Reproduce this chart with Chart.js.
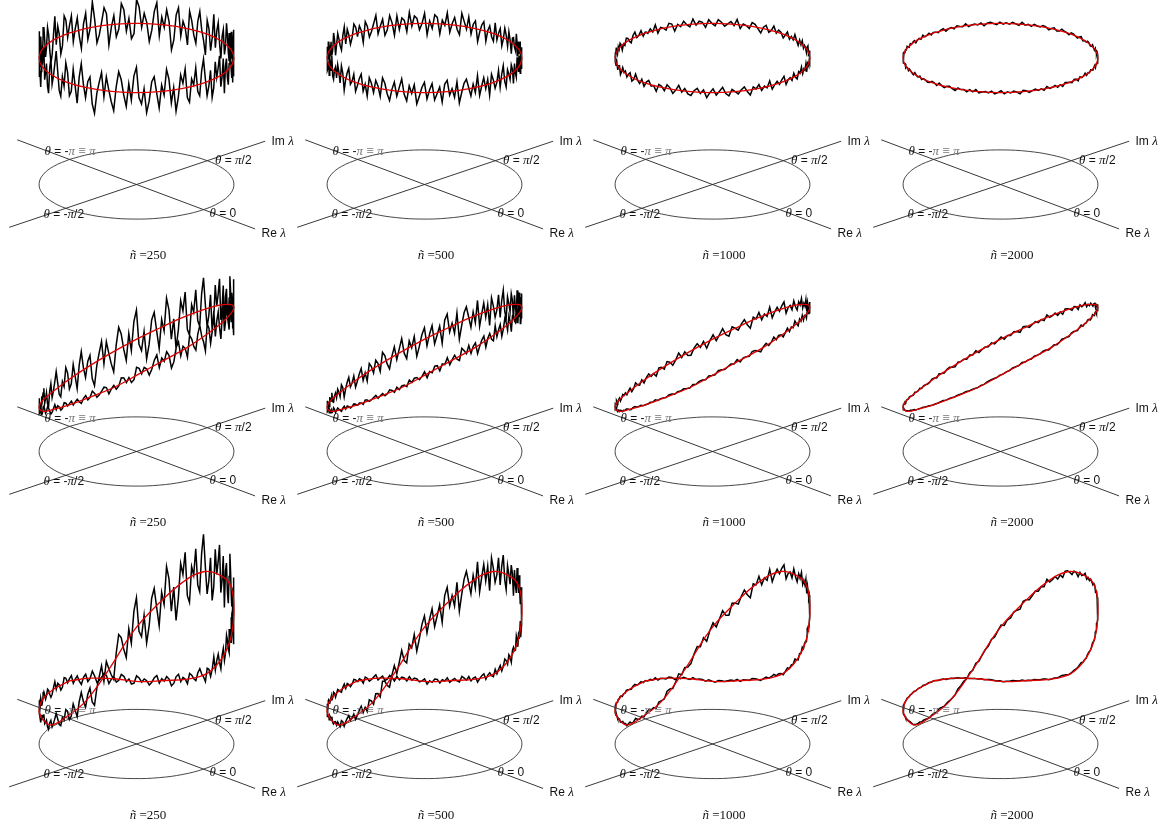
<!DOCTYPE html>
<html>
<head>
<meta charset="utf-8">
<script src="https://cdn.jsdelivr.net/npm/chart.js@4.4.1/dist/chart.umd.min.js"></script>
<style>
  body { margin: 0; background: #fff; }
  canvas { display: block; }
</style>
</head>
<body>
<canvas id="chart" width="1166" height="828"></canvas>
<script>
const theta = [-180, -165, -150, -135, -120, -105, -90, -75, -60, -45, -30, -15,
               0, 15, 30, 45, 60, 75, 90, 105, 120, 135, 150, 165];

// mean height over the plane, one list per row of panels
const heightFlat = [1.00, 1.00, 1.00, 1.00, 1.00, 1.00, 1.00, 1.00, 1.00, 1.00, 1.00, 1.00,
                    1.00, 1.00, 1.00, 1.00, 1.00, 1.00, 1.00, 1.00, 1.00, 1.00, 1.00, 1.00];
const heightTilted = [0.17, 0.19, 0.24, 0.34, 0.46, 0.59, 0.74, 0.89, 1.03, 1.15, 1.24, 1.30,
                      1.32, 1.30, 1.24, 1.15, 1.03, 0.89, 0.74, 0.59, 0.46, 0.34, 0.24, 0.19];
const heightPeaked = [0.30, 0.29, 0.28, 0.27, 0.27, 0.28, 0.40, 0.57, 0.85, 1.17, 1.38, 1.52,
                      1.56, 1.48, 1.34, 1.11, 0.79, 0.55, 0.37, 0.28, 0.24, 0.22, 0.25, 0.28];

const sizes = [250, 500, 1000, 2000];

// relative deviation (percent) of the noisy curve from the mean, samples evenly round the loop
const noise250 = [
  6, -3, 11, 15, -8, -14, 2, 9, -5, 18, 4, -11, -17, -6, 7, 13, -2, -9, 5, 16, 10, -7, -13, 1,
  12, -4, -10, 3, 19, 8, -6, -15, -1, 7, 14, -3, 5, -12, -18, -5, 9, 2, 11, 17, -8, -2, 6, -11,
  -16, 4, 13, -7, 0, 10, 21, 6, -9, -13, 3, -4, 15, 8, -10, -6, 12, -1, -14, 7, 18, 2, -8, 5,
  9, -12, -19, -3, 6, 14, -5, 11, 1, -8, -15, 4, 16, 10, -2, -11, 7, -6, 13, 20, -4, -9, 3, -16,
  -7, 8, 12, -1, -13, 5, -3, 17, 9, -10, 2, -17, -6, 11, 4, 15, -8, -12, 6, 1, 14, -5, -9, 10,
  19, 3, -11, -4, 8, -14, -7, 13, 0, 7, 16, -9, -2, 12, -16, 5, 10, -6, -12, 4, 18, 9, -3, -10,
  2, -15, 6, 14, -8, 11, -1, -13, 7, 21, 3, -6, -18, -4, 9, 15, -7, 1, 12, -11, -5, 8, 17, -2,
  -9, 10, 4, -14, -3, 13, 6, -8, 18, -1, -12, 5, 11, -17, -6, 2, 16, 8, -10, -4, 7, 14, -13, 0,
  5, -7, 15, 9, -11, -19, 3, 12, -2, 6, -9, 17, 10, -5, -14, 1, 8, -3, 13, 19, -8, -12, 4, -6,
  11, 16, -4, -10, 7, -2, -16, 9, 14, 3, -7, -13, 6, 20, -1, -9, 12, 4, -15, -5, 10, 2, -8, 13
];
const noise500 = [
  -3, 5, 8, -2, -7, 1, 6, -5, 9, 3, -8, -4, 2, 7, -1, -9, 4, 10, -3, -6, 5, 0, -7, 3,
  8, -2, -5, 6, 1, -9, -4, 7, 3, -1, 9, 5, -6, -3, 2, -8, 6, 4, -2, 10, -5, -7, 1, 4,
  -4, 7, 2, -6, 8, 3, -10, -1, 5, 9, -3, 0, 6, -7, -2, 4, 8, -5, 1, -8, 7, 3, -4, 6,
  2, -6, 9, 5, -3, -8, 1, 7, -4, 3, 10, -2, -7, 5, -1, 6, -9, -3, 4, 8, -5, 2, 7, -6,
  -1, 4, -8, 6, 9, -3, 2, -5, 7, -10, -2, 5, 8, 1, -6, 3, -4, 9, -7, 0, 6, -3, 4, -9,
  7, 2, -5, -1, 8, -6, 4, 10, -3, -8, 5, 1, -4, 7, 3, -9, 6, -2, -6, 9, 2, -4, 8, -1,
  -7, 3, 6, -4, 1, 9, -8, -2, 5, 7, -5, 4, -1, -9, 8, 2, -3, 6, -6, 3, 10, -4, -2, 5,
  4, -9, 1, 7, -5, 3, 8, -1, -7, 6, 2, -4, 9, -6, -3, 5, 1, -8, 7, 4, -2, -10, 6, 3,
  -5, 8, -2, 4, 10, -7, -3, 6, 1, -6, 9, -1, 3, -8, 5, 7, -4, 2, -9, 8, 0, -5, 4, 6,
  -2, 9, -6, 3, 5, -4, 7, -8, 2, 8, -3, -7, 6, 1, -5, 10, 4, -2, -6, 3, 7, -9, 1, 5
];
const noise1000 = [
  1, -2, 3, 0, -1, 4, 2, -3, -1, 2, 3, -2, 0, -4, 1, 3, -1, 2, -3, 0, 4, 1, -2, -1,
  3, -1, -3, 2, 1, -2, 4, 0, -3, 1, 2, -4, -1, 3, 0, 2, -2, 1, 3, -3, -1, 4, 0, -2,
  2, -3, 1, 3, -1, 0, -4, 2, 1, -2, 3, 1, -3, 0, 4, -1, 2, -2, -3, 1, 3, -1, 2, -4,
  0, 3, -2, 1, 4, -1, -3, 2, 0, -2, 1, 3, -1, -4, 2, 0, 3, -2, 1, -1, 4, -3, 0, 2,
  -1, 2, 4, -3, 0, 1, -2, 3, -1, -3, 2, 0, 4, -2, 1, -1, 3, -4, 2, 0, -2, 1, 3, -1,
  2, -4, 1, 0, 3, -2, -1, 4, 2, -3, 0, 1, -2, 3, -1, 2, -3, 0, 4, -1, 1, -2, 3, 0,
  -3, 1, 2, -1, 4, 0, -2, 3, 1, -4, -1, 2, 3, -2, 0, 1, -3, 4, -1, 2, 0, -2, 1, 3,
  -2, 0, 3, -3, 1, 2, -1, 4, -2, 0, 3, -1, 1, -4, 2, 3, -2, 0, 1, -3, 4, -1, 2, -1
];
const noise2000 = [
  0.5, -1, 1, 0, -0.5, 1.5, -1, 0.5, 0, -1.5, 1, 0.5, -0.5, 1, -1, 0, 1.5, -0.5, 0.5, -1, 0, 1, -1.5, 0.5,
  1, -0.5, 0, 1.5, -1, -0.5, 0.5, 1, -1.5, 0, 0.5, -1, 1, 0.5, -0.5, -1, 1.5, 0, -0.5, 1, -1, 0.5, 0, -1,
  -0.5, 1, 0.5, -1, 1.5, 0, -1, 0.5, 1, -0.5, -1.5, 1, 0, 0.5, -1, 1, -0.5, 1.5, -1, 0, 0.5, -0.5, 1, -1,
  0, 1.5, -1, 0.5, -0.5, 1, 0, -1.5, 1, 0.5, -1, 0, 1, -0.5, 0.5, -1, 1.5, -0.5, 0, 1, -1, 0.5, -1.5, 1,
  0.5, 0, -1, 1, 0.5, -1.5, 1, -0.5, 0, 1.5, -1, 0.5, -0.5, 1, 0, -1, 0.5, 1, -1.5, 0.5, 0, -0.5, 1.5, -1,
  -1, 0.5, 1, -0.5, 0, 1, -1.5, 0.5, 1, -1, 0, 1.5, -0.5, -1, 0.5, 1, -0.5, 0, -1, 1.5, 0.5, -1, 0, 1,
  1, -1, 0, 0.5, 1.5, -0.5, -1, 1, 0, -1.5, 0.5, 1, -0.5, 0, 1, -1, 0.5, -0.5, 1.5, -1, 0, 1, -0.5, 0.5,
  -0.5, 1, -1, 0, 1, 0.5, -1.5, 1, -0.5, 0.5, 0, -1, 1.5, -0.5, 0, 1, -1, 0.5, 0, -1.5, 1, 0.5, -1, 0
];

const rowHeights = [heightFlat, heightTilted, heightPeaked];
const colNoise = [noise250, noise500, noise1000, noise2000];

// layout: centre of each panel's base circle, in page pixels
const colX = [136.5, 424.5, 712.5, 1000.5];
const rowY = [184.5, 451.5, 744];
// oblique view: where theta = 0 and theta = pi/2 land, and pixels per unit of height
const U = [67.0, 25.1];
const V = [70.7, -23.8];
const LIFT = 126.5;
const RE_REACH = [-1.78, 1.77];
const IM_REACH = [-1.80, 1.82];

function project(cx, cy, deg, h) {
  const t = deg * Math.PI / 180;
  return {
    x: cx + Math.cos(t) * U[0] + Math.sin(t) * V[0],
    y: cy + Math.cos(t) * U[1] + Math.sin(t) * V[1] - h * LIFT
  };
}

// mean height at any angle, linear between the read angles
function meanAt(heights, deg) {
  const step = 360 / theta.length;
  const pos = (deg + 180) / step;
  const i = Math.floor(pos) % heights.length;
  const f = pos - Math.floor(pos);
  return heights[i] * (1 - f) + heights[(i + 1) % heights.length] * f;
}

const datasets = [];
rowY.forEach((cy, r) => {
  colX.forEach((cx, c) => {
    const heights = rowHeights[r];
    const angles = theta.concat([180]);

    datasets.push({
      data: angles.map((d, i) => project(cx, cy, d, heights[i % heights.length])),
      borderColor: 'rgb(225,0,0)', borderWidth: 1.3, tension: 0.4, order: 0
    });

    const noise = colNoise[c];
    const noisy = noise.map((e, k) => {
      const d = -180 + 360 * k / noise.length;
      return project(cx, cy, d, meanAt(heights, d) * (1 + e / 100));
    });
    noisy.push(noisy[0]);
    datasets.push({ data: noisy, borderColor: '#000', borderWidth: 1.5, tension: 0, order: 1 });

    datasets.push({
      data: angles.map(d => project(cx, cy, d, 0)),
      borderColor: '#333', borderWidth: 0.9, tension: 0.4, order: 2
    });
    datasets.push({
      data: RE_REACH.map(t => ({ x: cx + t * U[0], y: cy + t * U[1] })),
      borderColor: '#222', borderWidth: 0.9, order: 2
    });
    datasets.push({
      data: IM_REACH.map(t => ({ x: cx + t * V[0], y: cy + t * V[1] })),
      borderColor: '#222', borderWidth: 0.9, order: 2
    });
  });
});

const SANS = '12px "Liberation Sans", Arial, sans-serif';
const MATH = 'italic 13px "Liberation Serif", "DejaVu Serif", serif';
const ROMAN = '13px "Liberation Serif", "DejaVu Serif", serif';
const INK = '#111';
const FAINT = '#777';

const axisLabels = [
  { dx: -92, dy: -33, runs: [['θ', MATH, INK], [' = -', SANS, INK], ['π', MATH, FAINT], [' ≡ ', ROMAN, FAINT], ['π', MATH, FAINT]] },
  { dx: 78.5, dy: -23.5, runs: [['θ', MATH, INK], [' = ', SANS, INK], ['π', MATH, INK], ['/2', SANS, INK]] },
  { dx: -93, dy: 30.5, runs: [['θ', MATH, INK], [' = -', SANS, INK], ['π', MATH, INK], ['/2', SANS, INK]] },
  { dx: 73, dy: 29, runs: [['θ', MATH, INK], [' = 0', SANS, INK]] },
  { dx: 135, dy: -43, runs: [['Im ', SANS, INK], ['λ', MATH, INK]] },
  { dx: 125, dy: 49, runs: [['Re ', SANS, INK], ['λ', MATH, INK]] }
];

function drawRuns(ctx, x, y, runs, centred) {
  ctx.textBaseline = 'middle';
  ctx.textAlign = 'left';
  let w = 0;
  runs.forEach(([t, f]) => { ctx.font = f; w += ctx.measureText(t).width; });
  let px = centred ? x - w / 2 : x;
  runs.forEach(([t, f, col]) => {
    ctx.font = f;
    ctx.fillStyle = col;
    ctx.fillText(t, px, y);
    px += ctx.measureText(t).width;
  });
}

const panelText = {
  id: 'panelText',
  afterDatasetsDraw(chart) {
    const { ctx, scales: { x, y } } = chart;
    ctx.save();
    rowY.forEach(cy => {
      colX.forEach((cx, c) => {
        axisLabels.forEach(l => {
          drawRuns(ctx, x.getPixelForValue(cx + l.dx), y.getPixelForValue(cy + l.dy), l.runs, false);
        });
        drawRuns(ctx, x.getPixelForValue(cx + 11.5), y.getPixelForValue(cy + 71.5),
          [['ñ', MATH, INK], [' =' + sizes[c], ROMAN, INK]], true);
      });
    });
    ctx.restore();
  }
};

new Chart(document.getElementById('chart'), {
  type: 'scatter',
  data: { datasets: datasets },
  options: {
    responsive: false,
    animation: false,
    showLine: true,
    elements: { point: { radius: 0, hoverRadius: 0 } },
    layout: { padding: 0 },
    scales: {
      x: { type: 'linear', min: 0, max: 1166, display: false },
      y: { type: 'linear', min: 0, max: 828, reverse: true, display: false }
    },
    plugins: { legend: { display: false }, tooltip: { enabled: false } },
    events: []
  },
  plugins: [panelText]
});
</script>
</body>
</html>
